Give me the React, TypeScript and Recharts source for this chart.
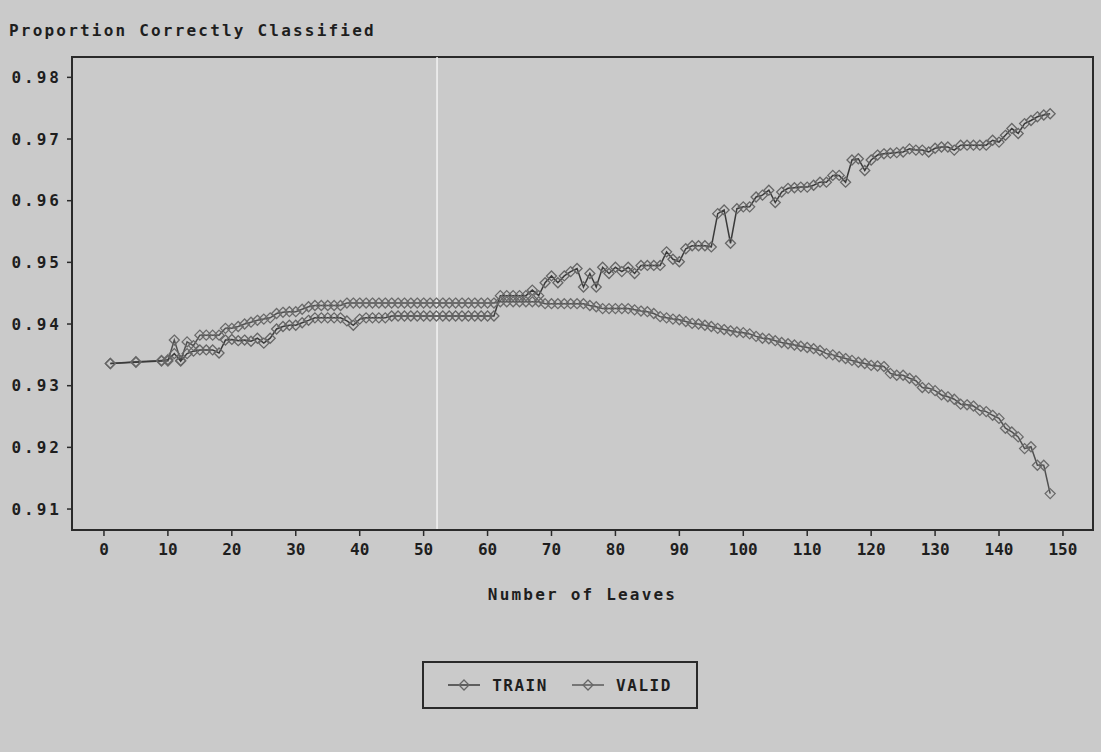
import React from 'react';
import { LineChart, Line, XAxis, YAxis, ReferenceLine, ReferenceArea, Legend } from 'recharts';

const LEAVES = [
  1, 5, 9,
  10, 11, 12, 13, 14, 15, 16, 17, 18, 19,
  20, 21, 22, 23, 24, 25, 26, 27, 28, 29,
  30, 31, 32, 33, 34, 35, 36, 37, 38, 39,
  40, 41, 42, 43, 44, 45, 46, 47, 48, 49,
  50, 51, 52, 53, 54, 55, 56, 57, 58, 59,
  60, 61, 62, 63, 64, 65, 66, 67, 68, 69,
  70, 71, 72, 73, 74, 75, 76, 77, 78, 79,
  80, 81, 82, 83, 84, 85, 86, 87, 88, 89,
  90, 91, 92, 93, 94, 95, 96, 97, 98, 99,
  100, 101, 102, 103, 104, 105, 106, 107, 108, 109,
  110, 111, 112, 113, 114, 115, 116, 117, 118, 119,
  120, 121, 122, 123, 124, 125, 126, 127, 128, 129,
  130, 131, 132, 133, 134, 135, 136, 137, 138, 139,
  140, 141, 142, 143, 144, 145, 146, 147, 148,
];

const TRAIN = [
  0.9336, 0.9338, 0.9340,
  0.9342, 0.9352, 0.9340, 0.9352, 0.9356, 0.9358, 0.9358, 0.9358, 0.9353, 0.9374,
  0.9375, 0.9373, 0.9374, 0.9372, 0.9377, 0.9369, 0.9377, 0.9392, 0.9396, 0.9398,
  0.9398, 0.9402, 0.9406, 0.9410, 0.9410, 0.9410, 0.9410, 0.9410, 0.9405, 0.9398,
  0.9408, 0.9410, 0.9410, 0.9410, 0.9410, 0.9413, 0.9413, 0.9413, 0.9413, 0.9413,
  0.9413, 0.9413, 0.9413, 0.9413, 0.9413, 0.9413, 0.9413, 0.9413, 0.9413, 0.9413,
  0.9413, 0.9413, 0.9446, 0.9446, 0.9446, 0.9446, 0.9446, 0.9455, 0.9446, 0.9467,
  0.9478, 0.9467, 0.9478, 0.9485, 0.9490, 0.9460, 0.9482, 0.9460, 0.9492, 0.9482,
  0.9492, 0.9485, 0.9492, 0.9482, 0.9495, 0.9495, 0.9495, 0.9495, 0.9517, 0.9505,
  0.9501, 0.9522, 0.9527, 0.9527, 0.9527, 0.9525, 0.9579, 0.9585, 0.9531, 0.9587,
  0.9590, 0.9590, 0.9606, 0.9609, 0.9617, 0.9597, 0.9614, 0.9620, 0.9621, 0.9622,
  0.9622, 0.9625, 0.9630, 0.9630, 0.9641, 0.9641, 0.9630, 0.9666, 0.9668, 0.9649,
  0.9666, 0.9674, 0.9676, 0.9677, 0.9678, 0.9679, 0.9684, 0.9682, 0.9682, 0.9679,
  0.9685, 0.9687, 0.9687, 0.9682, 0.9690, 0.9690, 0.9690, 0.9690, 0.9690, 0.9698,
  0.9695, 0.9706, 0.9717, 0.9709, 0.9725, 0.9730, 0.9736, 0.9739, 0.9741,
];

const VALID = [
  0.9336, 0.9339, 0.9341,
  0.9340, 0.9374, 0.9341, 0.9371, 0.9365, 0.9382, 0.9382, 0.9382, 0.9382, 0.9393,
  0.9393, 0.9396, 0.9400, 0.9403, 0.9406, 0.9408, 0.9410, 0.9417, 0.9419, 0.9420,
  0.9420, 0.9424, 0.9428, 0.9430, 0.9430, 0.9430, 0.9430, 0.9430, 0.9434, 0.9434,
  0.9434, 0.9434, 0.9434, 0.9434, 0.9434, 0.9434, 0.9434, 0.9434, 0.9434, 0.9434,
  0.9434, 0.9434, 0.9434, 0.9434, 0.9434, 0.9434, 0.9434, 0.9434, 0.9434, 0.9434,
  0.9434, 0.9434, 0.9436, 0.9436, 0.9436, 0.9436, 0.9436, 0.9436, 0.9436, 0.9433,
  0.9433, 0.9433, 0.9433, 0.9433, 0.9433, 0.9433, 0.9430, 0.9428, 0.9425, 0.9425,
  0.9425, 0.9425, 0.9425, 0.9423, 0.9421, 0.9420, 0.9417, 0.9412, 0.9410, 0.9408,
  0.9407, 0.9404, 0.9401, 0.9400, 0.9398, 0.9396, 0.9393, 0.9391, 0.9389, 0.9387,
  0.9386, 0.9384, 0.9380, 0.9377, 0.9376, 0.9373, 0.9370, 0.9368, 0.9366, 0.9364,
  0.9362, 0.9360, 0.9357, 0.9352, 0.9350, 0.9347, 0.9344, 0.9341, 0.9338, 0.9336,
  0.9333, 0.9332, 0.9331, 0.9320, 0.9317, 0.9317, 0.9312, 0.9308, 0.9297, 0.9296,
  0.9292, 0.9285, 0.9282, 0.9278, 0.9270, 0.9269, 0.9267, 0.9260, 0.9258, 0.9252,
  0.9247, 0.9231, 0.9225, 0.9217, 0.9198, 0.9201, 0.9171, 0.9171, 0.9125,
];

const X_TICKS = [0, 10, 20, 30, 40, 50, 60, 70, 80, 90, 100, 110, 120, 130, 140, 150];
const Y_TICKS = [0.91, 0.92, 0.93, 0.94, 0.95, 0.96, 0.97, 0.98];
const X_DOMAIN: [number, number] = [-5, 154.7];
const Y_DOMAIN: [number, number] = [0.9066, 0.9833];
const SCAN_LINE_X = [52.1];

const data = LEAVES.map((n, i) => ({ leaves: n, TRAIN: TRAIN[i], VALID: VALID[i] }));

const FONT = '"DejaVu Sans Mono", monospace';
const BG = '#cacaca';
const INK = '#1e1e1e';

const makeDiamond = (stroke: string) => (props: any) => {
  const { cx, cy, index } = props;
  if (cx == null || cy == null) return <g key={`d-${index}`} />;
  const r = 5;
  return (
    <path
      key={`d-${index}`}
      d={`M${cx},${cy - r}L${cx + r},${cy}L${cx},${cy + r}L${cx - r},${cy}Z`}
      fill="none"
      stroke={stroke}
      strokeWidth={1.3}
    />
  );
};

const LegendItem = ({ label, color }: { label: string; color: string }) => (
  <div style={{ display: 'flex', alignItems: 'center' }}>
    <svg width={32} height={14} style={{ marginRight: 12 }}>
      <line x1={0} y1={7} x2={32} y2={7} stroke={color} strokeWidth={1.5} />
      <path d="M16,2L21,7L16,12L11,7Z" fill="none" stroke="#666" strokeWidth={1.3} />
    </svg>
    <span style={{ fontFamily: FONT, fontWeight: 'bold', fontSize: 16, letterSpacing: 1.5, color: INK }}>{label}</span>
  </div>
);

const LegendBox = () => (
  <div
    style={{
      boxSizing: 'border-box',
      width: 276,
      height: 48,
      border: '2px solid #2a2a2a',
      display: 'flex',
      alignItems: 'center',
      justifyContent: 'space-evenly',
      background: BG,
    }}
  >
    <LegendItem label="TRAIN" color="#3a3a3a" />
    <LegendItem label="VALID" color="#5a5a5a" />
  </div>
);

export default function App() {
  return (
    <div style={{ position: 'absolute', left: 0, top: 0, width: 1101, height: 752, background: BG }}>
      <div
        style={{
          position: 'absolute',
          left: 9,
          top: 21,
          fontFamily: FONT,
          fontWeight: 'bold',
          fontSize: 16,
          lineHeight: '20px',
          letterSpacing: 2.2,
          color: INK,
          whiteSpace: 'nowrap',
        }}
      >
        Proportion Correctly Classified
      </div>
      <LineChart width={1101} height={752} data={data} margin={{ top: 57, right: 8, left: 0, bottom: 152 }}>
        <XAxis
          dataKey="leaves"
          type="number"
          domain={X_DOMAIN}
          ticks={X_TICKS}
          allowDataOverflow
          height={70}
          axisLine={{ stroke: '#2a2a2a', strokeWidth: 2 }}
          tickLine={{ stroke: '#2a2a2a', strokeWidth: 1.5 }}
          tickSize={6}
          tickMargin={8}
          tick={{ fontFamily: FONT, fontWeight: 'bold', fontSize: 16, fill: INK }}
          label={{
            value: 'Number of Leaves',
            position: 'insideBottom',
            offset: 0,
            style: { fontFamily: FONT, fontWeight: 'bold', fontSize: 16, fill: INK, letterSpacing: 2.2 },
          }}
        />
        <YAxis
          type="number"
          domain={Y_DOMAIN}
          ticks={Y_TICKS}
          allowDataOverflow
          width={72}
          axisLine={{ stroke: '#2a2a2a', strokeWidth: 2 }}
          tickLine={{ stroke: '#2a2a2a', strokeWidth: 1.5 }}
          tickSize={5}
          tickMargin={5}
          tickFormatter={(v: number) => v.toFixed(2)}
          tick={{ fontFamily: FONT, fontWeight: 'bold', fontSize: 16, fill: INK, letterSpacing: 3 }}
        />
        <ReferenceArea
          x1={X_DOMAIN[0]}
          x2={X_DOMAIN[1]}
          y1={Y_DOMAIN[0]}
          y2={Y_DOMAIN[1]}
          fill="none"
          fillOpacity={0}
          stroke="#2a2a2a"
          strokeWidth={2}
          ifOverflow="extendDomain"
        />
        {SCAN_LINE_X.map((x) => (
          <ReferenceLine key={x} x={x} stroke="#f2f2f2" strokeWidth={1.5} />
        ))}
        <Line
          dataKey="VALID"
          stroke="#505050"
          strokeWidth={1.5}
          dot={makeDiamond('#6a6a6a')}
          isAnimationActive={false}
        />
        <Line
          dataKey="TRAIN"
          stroke="#3a3a3a"
          strokeWidth={1.5}
          dot={makeDiamond('#666666')}
          isAnimationActive={false}
        />
        <Legend
          layout="horizontal"
          verticalAlign="middle"
          content={() => <LegendBox />}
          wrapperStyle={{ position: 'absolute', left: 422, top: 661, width: 276, height: 48 }}
        />
      </LineChart>
    </div>
  );
}
